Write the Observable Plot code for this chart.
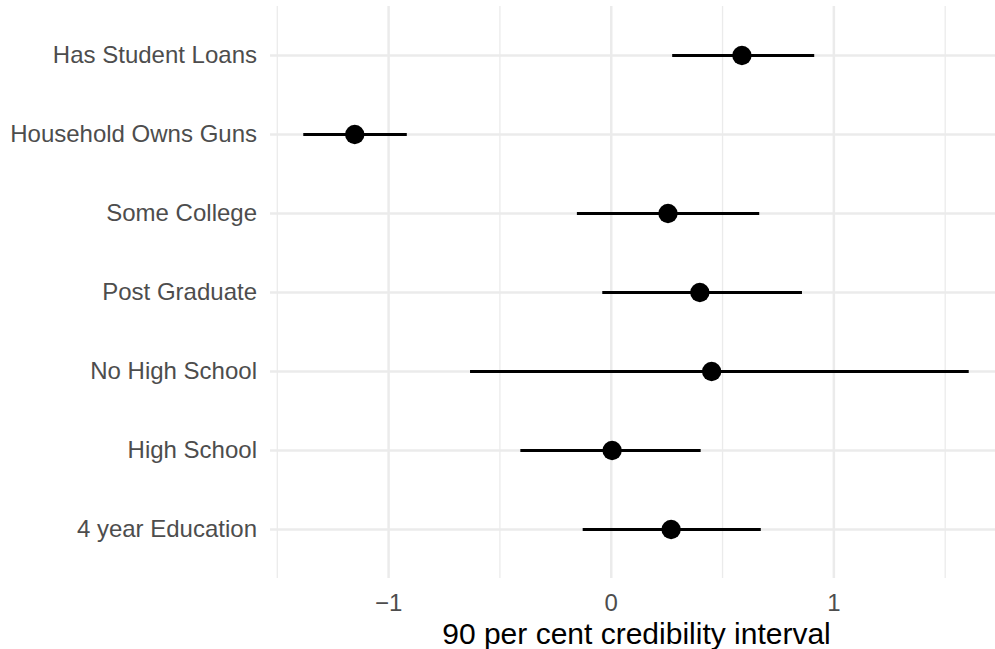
<!DOCTYPE html>
<html>
<head>
<meta charset="utf-8">
<script src="https://cdn.jsdelivr.net/npm/d3@7"></script>
<script src="https://cdn.jsdelivr.net/npm/@observablehq/plot@0.6"></script>
<style>
  html, body { margin: 0; padding: 0; background: #ffffff; }
  #chart svg { display: block; }
</style>
</head>
<body>
<div id="chart"></div>
<script>
// Categories (top to bottom)
const terms = [
  "Has Student Loans",
  "Household Owns Guns",
  "Some College",
  "Post Graduate",
  "No High School",
  "High School",
  "4 year Education"
];
// Point estimates and 90% interval bounds
const estimate = [0.587, -1.152, 0.255, 0.398, 0.451, 0.004, 0.269];
const lower    = [0.276, -1.381, -0.152, -0.038, -0.632, -0.406, -0.126];
const upper    = [0.914, -0.916, 0.667, 0.859, 1.608, 0.404, 0.674];

// Axis ticks
const majorTicks = [-1, 0, 1];
const minorTicks = [-1.5, -0.5, 0.5, 1.5];
const xTitle = "90 per cent credibility interval";

const data = terms.map((t, i) => ({term: t, est: estimate[i], lo: lower[i], hi: upper[i]}));

// ggplot-like 5% expansion of the data range
const lo = d3.min(lower), hi = d3.max(upper);
const pad = (hi - lo) * 0.05;

const font = "'Liberation Sans', Arial, Helvetica, sans-serif";
const fmt = d => (d < 0 ? "\u2212" : "") + Math.abs(d);

const chart = Plot.plot({
  width: 995,
  height: 649,
  marginLeft: 270,
  marginRight: -7,
  marginTop: 6,
  marginBottom: 71,
  style: {fontFamily: font, background: "#ffffff"},
  x: {domain: [lo - pad, hi + pad]},
  y: {type: "point", domain: terms, padding: 0.6},
  marks: [
    Plot.gridX(minorTicks, {stroke: "#EBEBEB", strokeOpacity: 1, strokeWidth: 1.3}),
    Plot.gridX(majorTicks, {stroke: "#EBEBEB", strokeOpacity: 1, strokeWidth: 2.5}),
    Plot.gridY(terms, {stroke: "#EBEBEB", strokeOpacity: 1, strokeWidth: 2.5}),
    Plot.axisX({ticks: majorTicks, tickFormat: fmt, tickSize: 0, tickPadding: 15, fontSize: 24, fill: "#4D4D4D", label: null}),
    Plot.axisY({tickSize: 0, tickPadding: 13.5, fontSize: 24, fill: "#4D4D4D", label: null}),
    Plot.ruleY(data, {y: "term", x1: "lo", x2: "hi", stroke: "#000000", strokeWidth: 2.8}),
    Plot.dot(data, {x: "est", y: "term", r: 9.7, fill: "#000000", stroke: "none"}),
    Plot.text([xTitle], {frameAnchor: "bottom", text: d => d, dy: 65, lineAnchor: "bottom", fontSize: 30, fill: "#000000", textAnchor: "middle"})
  ]
});
document.getElementById("chart").appendChild(chart);
</script>
</body>
</html>
